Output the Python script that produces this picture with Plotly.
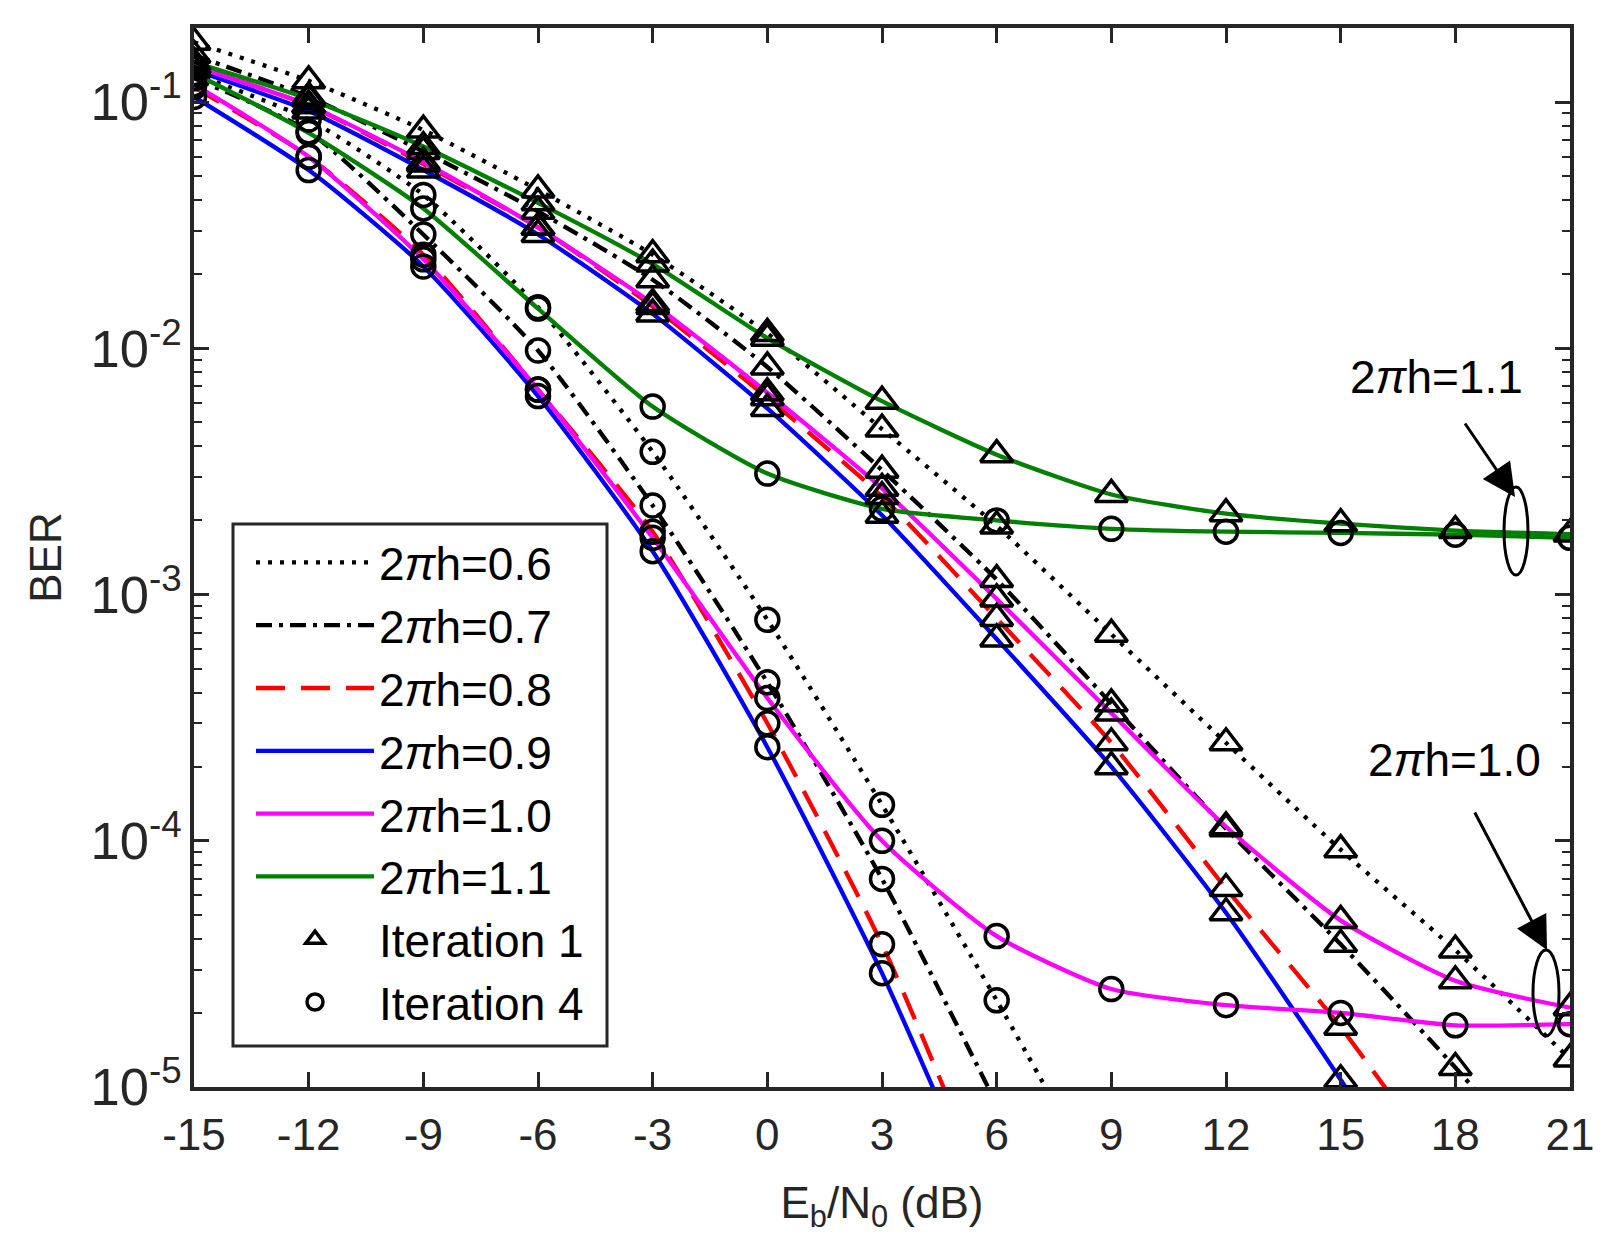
import math
import plotly.graph_objects as go

# Eb/N0 grid (dB)
ebn0 = [-15, -12, -9, -6, -3, 0, 3, 6, 9, 12, 15, 18, 21]
x_ticktext = ["-15", "-12", "-9", "-6", "-3", "0", "3", "6", "9", "12", "15", "18", "21"]
y_exponents = [-5, -4, -3, -2, -1]

# BER, iteration 1
ber_it1_h06 = [0.175, 0.122, 0.077, 0.044, 0.024, 0.0115, 0.0047, 0.0019, 6.9e-4, 2.5e-4, 9.2e-5, 3.6e-5, 1.3e-5]
ber_it1_h07 = [0.155, 0.105, 0.063, 0.036, 0.019, 0.0084, 0.0032, 1.15e-3, 3.6e-4, 1.12e-4, 3.8e-5, 1.2e-5, 3.5e-6]
ber_it1_h08 = [0.14, 0.097, 0.056, 0.031, 0.0148, 0.0063, 0.0025, 8.0e-4, 2.5e-4, 6.4e-5, 1.75e-5, 4e-6, 9e-7]
ber_it1_h09 = [0.135, 0.092, 0.053, 0.029, 0.0138, 0.0057, 0.0021, 6.6e-4, 2.0e-4, 5.1e-5, 1.07e-5, 2e-6, 4e-7]
ber_it1_h10 = [0.14, 0.097, 0.057, 0.031, 0.0152, 0.0066, 0.0027, 9.6e-4, 3.3e-4, 1.14e-4, 4.75e-5, 2.7e-5, 2.1e-5]
ber_it1_h11 = [0.145, 0.103, 0.066, 0.039, 0.022, 0.011, 0.0061, 0.0037, 0.00255, 0.00213, 0.00194, 0.00182, 0.00176]

# BER, iteration 4
ber_it4_h06 = [0.13, 0.085, 0.042, 0.0147, 0.0038, 7.9e-4, 1.4e-4, 2.25e-5, 3.3e-6, None, None, None, None]
ber_it4_h07 = [0.125, 0.076, 0.029, 0.0098, 0.0023, 4.4e-4, 7.0e-5, 8.5e-6, None, None, None, None, None]
ber_it4_h08 = [0.115, 0.060, 0.024, 0.0068, 0.0018, 3.0e-4, 3.8e-5, 3e-6, None, None, None, None, None]
ber_it4_h09 = [0.105, 0.053, 0.0215, 0.0064, 0.0015, 2.4e-4, 2.9e-5, 2.5e-6, None, None, None, None, None]
ber_it4_h10 = [0.118, 0.060, 0.023, 0.0068, 0.0017, 3.8e-4, 1.0e-4, 4.1e-5, 2.5e-5, 2.15e-5, 2.0e-5, 1.78e-5, 1.8e-5]
ber_it4_h11 = [0.131, 0.075, 0.037, 0.0145, 0.0058, 0.0031, 0.00223, 0.0020, 0.00185, 0.0018, 0.00178, 0.00175, 0.0017]

names = ["2<i>π</i>h=0.6", "2<i>π</i>h=0.7", "2<i>π</i>h=0.8",
         "2<i>π</i>h=0.9", "2<i>π</i>h=1.0", "2<i>π</i>h=1.1"]
colors = ["black", "black", "#ff0000", "#0000ff", "#ff00ff", "#008000"]
dashes = ["4px,8px", "16px,7px,4px,7px", "29px,16px", "solid", "solid", "solid"]

it1 = [ber_it1_h06, ber_it1_h07, ber_it1_h08, ber_it1_h09, ber_it1_h10, ber_it1_h11]
it4 = [ber_it4_h06, ber_it4_h07, ber_it4_h08, ber_it4_h09, ber_it4_h10, ber_it4_h11]

# plot area in page pixels
L, R, T, B = 194, 1570, 28, 1087
W, H = 1617, 1259


def px(x):
    return (x - L) / (R - L)


def py(y):
    return (B - y) / (B - T)


fig = go.Figure()

for i in range(6):
    fig.add_trace(go.Scatter(x=ebn0, y=it1[i], mode="lines", name=names[i],
                             line=dict(color=colors[i], width=4.3, dash=dashes[i],
                                       shape="spline", smoothing=0.6)))
for i in range(6):
    fig.add_trace(go.Scatter(x=ebn0, y=it4[i], mode="lines", showlegend=False,
                             line=dict(color=colors[i], width=4.3, dash=dashes[i],
                                       shape="spline", smoothing=0.6)))

x_all = ebn0 * 6
fig.add_trace(go.Scatter(x=x_all, y=sum(it1, []), mode="markers", name="Iteration 1",
                         marker=dict(symbol="triangle-up-open", size=28, color="black",
                                     line=dict(width=3.5, color="black"))))
fig.add_trace(go.Scatter(x=x_all, y=sum(it4, []), mode="markers", name="Iteration 4",
                         marker=dict(symbol="circle-open", size=23, color="black",
                                     line=dict(width=3.5, color="black"))))

axcol = "#262626"
fnt = "Liberation Sans, Arial, sans-serif"

# plain hyphen in the exponent, as in the original
y_alias = {"10<sup>\u2212%d</sup>" % -e: "10<sup>-%d</sup>" % -e for e in y_exponents}

fig.update_xaxes(range=[-15, 21], tickvals=ebn0, ticktext=x_ticktext, ticks="inside",
                 ticklen=15, tickwidth=3, tickcolor=axcol, showline=True, linewidth=4,
                 linecolor=axcol, mirror="ticks", showgrid=False, zeroline=False,
                 ticklabelstandoff=6,
                 tickfont=dict(family=fnt, size=44, color=axcol),
                 title=dict(text="E<sub>b</sub>/N<sub>0</sub> (dB)", standoff=30,
                            font=dict(family=fnt, size=44, color=axcol)))
fig.update_yaxes(type="log", range=[-5, math.log10(0.2)], dtick=1, exponentformat="power",
                 labelalias=y_alias,
                 ticks="inside", ticklen=15, tickwidth=3, tickcolor=axcol,
                 minor=dict(ticks="inside", ticklen=8, tickwidth=2, tickcolor=axcol, showgrid=False),
                 showline=True, linewidth=4, linecolor=axcol, mirror="ticks",
                 showgrid=False, zeroline=False, ticklabelstandoff=0,
                 tickfont=dict(family=fnt, size=42, color=axcol),
                 title=dict(text="BER", standoff=16, font=dict(family=fnt, size=44, color=axcol)))

# legend frame
fig.add_shape(type="rect", xref="paper", yref="paper", x0=px(233), x1=px(607),
              y0=py(1046), y1=py(524), line=dict(color=axcol, width=3), fillcolor="white",
              layer="above")

# annotations: labels, arrows and ellipses
fig.add_annotation(x=px(1436), y=py(377), xref="paper", yref="paper", text="2<i>π</i>h=1.1",
                   showarrow=False, xanchor="center", yanchor="middle",
                   font=dict(family=fnt, size=46, color="black"))
fig.add_annotation(x=px(1454), y=py(760), xref="paper", yref="paper", text="2<i>π</i>h=1.0",
                   showarrow=False, xanchor="center", yanchor="middle",
                   font=dict(family=fnt, size=46, color="black"))
fig.add_annotation(x=px(1515), y=py(497), xref="paper", yref="paper", text="",
                   showarrow=True, ax=1464 - 1515, ay=422 - 497, arrowhead=2, arrowsize=2.2,
                   arrowwidth=3, arrowcolor="black")
fig.add_annotation(x=px(1547), y=py(950), xref="paper", yref="paper", text="",
                   showarrow=True, ax=1474 - 1547, ay=811 - 950, arrowhead=2, arrowsize=2.2,
                   arrowwidth=3, arrowcolor="black")
fig.add_shape(type="circle", xref="paper", yref="paper", x0=px(1504), x1=px(1528),
              y0=py(575), y1=py(487), line=dict(color="black", width=3))
fig.add_shape(type="circle", xref="paper", yref="paper", x0=px(1533), x1=px(1559),
              y0=py(1036), y1=py(950), line=dict(color="black", width=3))

fig.update_layout(
    width=W, height=H,
    margin=dict(l=L, r=W - R, t=T, b=H - B),
    plot_bgcolor="white", paper_bgcolor="white",
    font=dict(family=fnt, color="black"),
    legend=dict(x=px(251), y=py(526), xanchor="left", yanchor="top",
                bgcolor="rgba(0,0,0,0)", borderwidth=0,
                font=dict(family=fnt, size=46, color="black"),
                itemwidth=118, tracegroupgap=0),
)

fig.write_html("out.html", config={"displayModeBar": False},
               post_script="document.body.style.margin='0';")
